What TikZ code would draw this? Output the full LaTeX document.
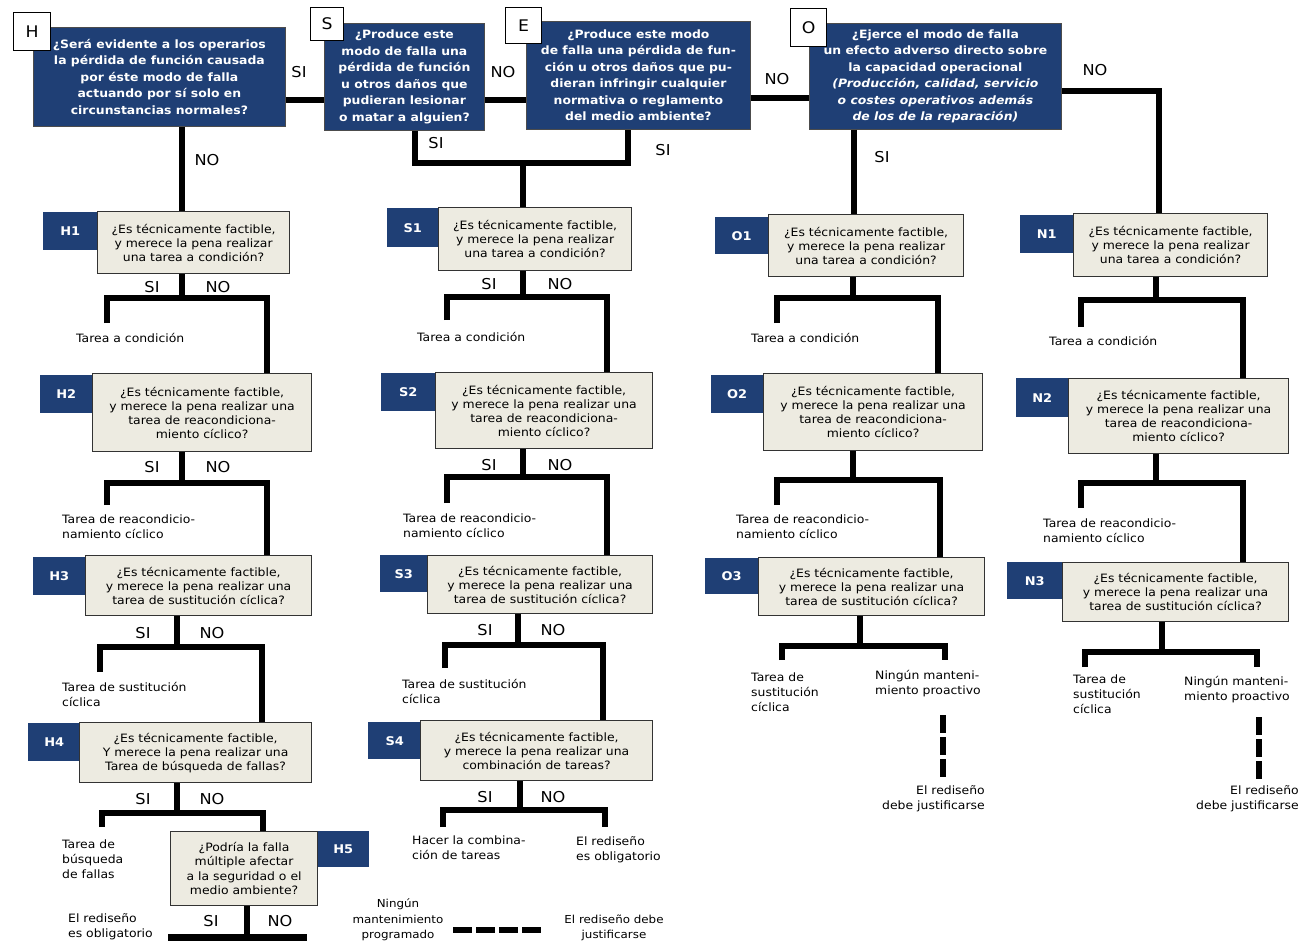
\documentclass[tikz,border=0pt]{standalone}
\usepackage{fontspec}
\setmainfont{DejaVu Sans}[FakeStretch=1.08]
\definecolor{rcmblue}{RGB}{31,63,117}
\definecolor{rcmbeige}{RGB}{237,235,225}

\tikzset{
  conn/.style = {line width=6pt},
  conndash/.style = {line width=6pt, dash pattern=on 18pt off 4pt},
  topq/.style = {draw=black!70, line width=0.8pt, fill=rcmblue, text=white, anchor=north west, align=center, inner sep=1pt, font=\fontsize{11.5}{16.5}\selectfont\bfseries},
  letter/.style = {draw, fill=white, line width=1.2pt, anchor=north west, inner sep=0pt, font=\fontsize{16}{18}\selectfont},
  qbox/.style = {draw=black!80, line width=1.2pt, fill=rcmbeige, anchor=north west, align=center, inner sep=1pt, font=\fontsize{11.5}{14}\selectfont},
  qtag/.style = {fill=rcmblue, text=white, anchor=north west, inner sep=0pt, font=\fontsize{12}{14}\selectfont\bfseries},
  yesno/.style = {inner sep=0pt, font=\fontsize{15}{17}\selectfont},
  result/.style = {anchor=west, align=left, inner sep=0pt, font=\fontsize{11.5}{15}\selectfont},
}

\begin{document}
\begin{tikzpicture}[x=1pt, y=-1pt]
\useasboundingbox (0,0) rectangle (1300,943);
\fill[white] (0,0) rectangle (1300,943);

% first questions
\node[topq, minimum width=252, minimum height=99] (H) at (33,27) {¿Será evidente a los operarios\\la pérdida de función causada\\por éste modo de falla\\actuando por sí solo en\\circunstancias normales?};
\node[topq, minimum width=160, minimum height=107] (S) at (324,23) {¿Produce este\\modo de falla una\\pérdida de función\\u otros daños que\\pudieran lesionar\\o matar a alguien?};
\node[topq, minimum width=224, minimum height=108] (E) at (526,21) {¿Produce este modo\\de falla una pérdida de fun-\\ción u otros daños que pu-\\dieran infringir cualquier\\normativa o reglamento\\del medio ambiente?};
\node[topq, minimum width=252, minimum height=106] (O) at (809,23) {¿Ejerce el modo de falla\\un efecto adverso directo sobre\\la capacidad operacional\\\textit{(Producción, calidad, servicio}\\\textit{o costes operativos además}\\\textit{de los de la reparación)}};
\node[letter, minimum width=37, minimum height=38] (Hl) at (13,12) {H};
\node[letter, minimum width=33, minimum height=33] (Sl) at (310,7) {S};
\node[letter, minimum width=36, minimum height=36] (El) at (505,7) {E};
\node[letter, minimum width=36, minimum height=38] (Ol) at (790,8) {O};

% tags
\node[qtag, minimum width=54, minimum height=38] (H1tag) at (43,212) {H1};
\node[qtag, minimum width=52, minimum height=38] (H2tag) at (40,375) {H2};
\node[qtag, minimum width=52, minimum height=38] (H3tag) at (33,557) {H3};
\node[qtag, minimum width=52, minimum height=38] (H4tag) at (28,723) {H4};
\node[qtag, minimum width=52, minimum height=36] (H5tag) at (317,831) {H5};
\node[qtag, minimum width=51, minimum height=39] (S1tag) at (387,208) {S1};
\node[qtag, minimum width=54, minimum height=38] (S2tag) at (381,373) {S2};
\node[qtag, minimum width=47, minimum height=37] (S3tag) at (380,555) {S3};
\node[qtag, minimum width=53, minimum height=37] (S4tag) at (368,722) {S4};
\node[qtag, minimum width=53, minimum height=37] (O1tag) at (715,217) {O1};
\node[qtag, minimum width=52, minimum height=38] (O2tag) at (711,375) {O2};
\node[qtag, minimum width=53, minimum height=36] (O3tag) at (705,558) {O3};
\node[qtag, minimum width=53, minimum height=38] (N1tag) at (1020,215) {N1};
\node[qtag, minimum width=52, minimum height=39] (N2tag) at (1016,378) {N2};
\node[qtag, minimum width=55, minimum height=37] (N3tag) at (1007,562) {N3};

% question boxes
\node[qbox, minimum width=192, minimum height=62] (H1) at (97,211) {¿Es técnicamente factible,\\y merece la pena realizar\\una tarea a condición?};
\node[qbox, minimum width=219, minimum height=78] (H2) at (92,373) {¿Es técnicamente factible,\\y merece la pena realizar una\\tarea de reacondiciona-\\miento cíclico?};
\node[qbox, minimum width=226, minimum height=60] (H3) at (85,555) {¿Es técnicamente factible,\\y merece la pena realizar una\\tarea de sustitución cíclica?};
\node[qbox, minimum width=232, minimum height=60] (H4) at (79,722) {¿Es técnicamente factible,\\Y merece la pena realizar una\\Tarea de búsqueda de fallas?};
\node[qbox, minimum width=147, minimum height=74, font=\fontsize{11.5}{14.5}\selectfont] (H5) at (170,831) {¿Podría la falla\\múltiple afectar\\a la seguridad o el\\medio ambiente?};
\node[qbox, minimum width=193, minimum height=63] (S1) at (438,207) {¿Es técnicamente factible,\\y merece la pena realizar\\una tarea a condición?};
\node[qbox, minimum width=217, minimum height=76] (S2) at (435,372) {¿Es técnicamente factible,\\y merece la pena realizar una\\tarea de reacondiciona-\\miento cíclico?};
\node[qbox, minimum width=225, minimum height=58] (S3) at (427,555) {¿Es técnicamente factible,\\y merece la pena realizar una\\tarea de sustitución cíclica?};
\node[qbox, minimum width=232, minimum height=60] (S4) at (420,720) {¿Es técnicamente factible,\\y merece la pena realizar una\\combinación de tareas?};
\node[qbox, minimum width=195, minimum height=62] (O1) at (768,214) {¿Es técnicamente factible,\\y merece la pena realizar\\una tarea a condición?};
\node[qbox, minimum width=219, minimum height=77] (O2) at (763,373) {¿Es técnicamente factible,\\y merece la pena realizar una\\tarea de reacondiciona-\\miento cíclico?};
\node[qbox, minimum width=226, minimum height=58] (O3) at (758,557) {¿Es técnicamente factible,\\y merece la pena realizar una\\tarea de sustitución cíclica?};
\node[qbox, minimum width=194, minimum height=63] (N1) at (1073,213) {¿Es técnicamente factible,\\y merece la pena realizar\\una tarea a condición?};
\node[qbox, minimum width=220, minimum height=75] (N2) at (1068,378) {¿Es técnicamente factible,\\y merece la pena realizar una\\tarea de reacondiciona-\\miento cíclico?};
\node[qbox, minimum width=226, minimum height=59] (N3) at (1062,562) {¿Es técnicamente factible,\\y merece la pena realizar una\\tarea de sustitución cíclica?};

% answers
\node[yesno] (HS-si) at (299,72) {SI};
\node[yesno] (SE-no) at (503,72) {NO};
\node[yesno] (EO-no) at (777,79) {NO};
\node[yesno] (ON-no) at (1095,70) {NO};
\node[yesno] (H-no) at (207,160) {NO};
\node[yesno] (S-si) at (436,143) {SI};
\node[yesno] (E-si) at (663,150) {SI};
\node[yesno] (O-si) at (882,157) {SI};
\foreach \q/\xs/\xn/\y in {H1/152/218/287, H2/152/218/467, H3/143/212/633, H4/143/212/799, H5/211/280/921,
  S1/489/560/284, S2/489/560/465, S3/485/553/630, S4/485/553/797} {
  \node[yesno] (\q-si) at (\xs,\y) {SI};
  \node[yesno] (\q-no) at (\xn,\y) {NO};
}

% outcomes
\node[result] (H1out) at (76,338) {Tarea a condición};
\node[result] (H2out) at (62,527) {Tarea de reacondicio-\\namiento cíclico};
\node[result] (H3out) at (62,694) {Tarea de sustitución\\cíclica};
\node[result] (H4out) at (62,859) {Tarea de\\búsqueda\\de fallas};
\node[result] (H5out) at (68,927) {El rediseño\\es obligatorio};
\node[result] (S1out) at (417,337) {Tarea a condición};
\node[result] (S2out) at (403,526) {Tarea de reacondicio-\\namiento cíclico};
\node[result] (S3out) at (402,691) {Tarea de sustitución\\cíclica};
\node[result] (S4out) at (412,848) {Hacer la combina-\\ción de tareas};
\node[result] (S4red) at (576,850) {El rediseño\\es obligatorio};
\node[result] (O1out) at (751,338) {Tarea a condición};
\node[result] (O2out) at (736,527) {Tarea de reacondicio-\\namiento cíclico};
\node[result] (O3out) at (751,692) {Tarea de\\sustitución\\cíclica};
\node[result] (O3none) at (875,684) {Ningún manteni-\\miento proactivo};
\node[result, anchor=east, align=right] (O3red) at (985,799) {El rediseño\\debe justificarse};
\node[result] (N1out) at (1049,341) {Tarea a condición};
\node[result] (N2out) at (1043,531) {Tarea de reacondicio-\\namiento cíclico};
\node[result] (N3out) at (1073,694) {Tarea de\\sustitución\\cíclica};
\node[result] (N3none) at (1184,690) {Ningún manteni-\\miento proactivo};
\node[result, anchor=east, align=right] (N3red) at (1299,799) {El rediseño\\debe justificarse};

% legend
\node[result, anchor=center, align=center, font=\fontsize{11}{15.5}\selectfont] (legA) at (398,920) {Ningún\\mantenimiento\\programado};
\node[result, anchor=center, align=center, font=\fontsize{11}{15}\selectfont] (legB) at (614,928) {El rediseño debe\\justificarse};

% connectors between first questions
\coordinate (hs) at (300,100);
\coordinate (eo) at (780,98);
\coordinate (on) at (1159,91);
\coordinate (hn) at (182,160);
\coordinate (sj) at (415,163);
\coordinate (ej) at (628,163);
\coordinate (sej) at (523,163);
\coordinate (oj) at (854,170);
\draw[conn] (H.east |- hs) -- (S.west |- hs);
\draw[conn] (S.east |- hs) -- (E.west |- hs);
\draw[conn] (E.east |- eo) -- (O.west |- eo);
\draw[conn] (O.east |- on) -- (on) -- (N1.north -| on);
\draw[conn] (H.south -| hn) -- (H1.north -| hn);
\draw[conn] (S.south -| sj) -- (sj) -- (ej) -- (E.south -| ej);
\draw[conn] (sej) -- (S1.north -| sej);
\draw[conn] (O.south -| oj) -- (O1.north -| oj);

% branch points
\foreach \q/\sx/\jy/\lx/\ly/\rx in {H1/182/298/107/323/267, H2/182/483/107/505/267, H3/177/647/100/672/262,
  H4/177/813/102/827/263, H5/247/937/168/937/307, S1/523/297/447/320/607, S2/523/477/447/503/607,
  S3/518/645/445/668/603, S4/520/810/443/827/605, O1/853/298/777/323/938, O2/853/480/777/505/940,
  O3/860/646/782/660/945, N1/1156/300/1081/327/1243, N2/1156/483/1081/508/1243, N3/1162/652/1085/667/1257} {
  \coordinate (\q-j) at (\sx,\jy);
  \coordinate (\q-l) at (\lx,\ly);
  \coordinate (\q-r) at (\rx,\jy);
}
\coordinate (S4-e) at (605,827);
\coordinate (O3-e) at (945,660);
\coordinate (N3-e) at (1257,667);
\foreach \q in {H1,H2,H3,H4,H5,S1,S2,S3,S4,O1,O2,O3,N1,N2,N3}
  \draw[conn] (\q.south -| \q-j) -- (\q-j);

\draw[conn] (H1-l) |- (H1-r) -- (H2.north -| H1-r);
\draw[conn] (H2-l) |- (H2-r) -- (H3.north -| H2-r);
\draw[conn] (H3-l) |- (H3-r) -- (H4.north -| H3-r);
\draw[conn] (H4-l) |- (H4-r) -- (H5.north -| H4-r);
\draw[conn, line width=7pt] (H5-l) -- (H5-r);
\draw[conn] (S1-l) |- (S1-r) -- (S2.north -| S1-r);
\draw[conn] (S2-l) |- (S2-r) -- (S3.north -| S2-r);
\draw[conn] (S3-l) |- (S3-r) -- (S4.north -| S3-r);
\draw[conn] (S4-l) |- (S4-r) -- (S4-e);
\draw[conn] (O1-l) |- (O1-r) -- (O2.north -| O1-r);
\draw[conn] (O2-l) |- (O2-r) -- (O3.north -| O2-r);
\draw[conn] (O3-l) |- (O3-r) -- (O3-e);
\draw[conn] (N1-l) |- (N1-r) -- (N2.north -| N1-r);
\draw[conn] (N2-l) |- (N2-r) -- (N3.north -| N2-r);
\draw[conn] (N3-l) |- (N3-r) -- (N3-e);

% redesign to be justified
\coordinate (O3-d1) at (943,715);
\coordinate (O3-d2) at (943,777);
\coordinate (N3-d1) at (1259,717);
\coordinate (N3-d2) at (1259,779);
\coordinate (leg-a) at (453,930);
\coordinate (leg-b) at (541,930);
\draw[conndash] (O3-d1) -- (O3-d2);
\draw[conndash] (N3-d1) -- (N3-d2);
\draw[conndash, dash pattern=on 19pt off 4pt] (leg-a) -- (leg-b);
\end{tikzpicture}
\end{document}
